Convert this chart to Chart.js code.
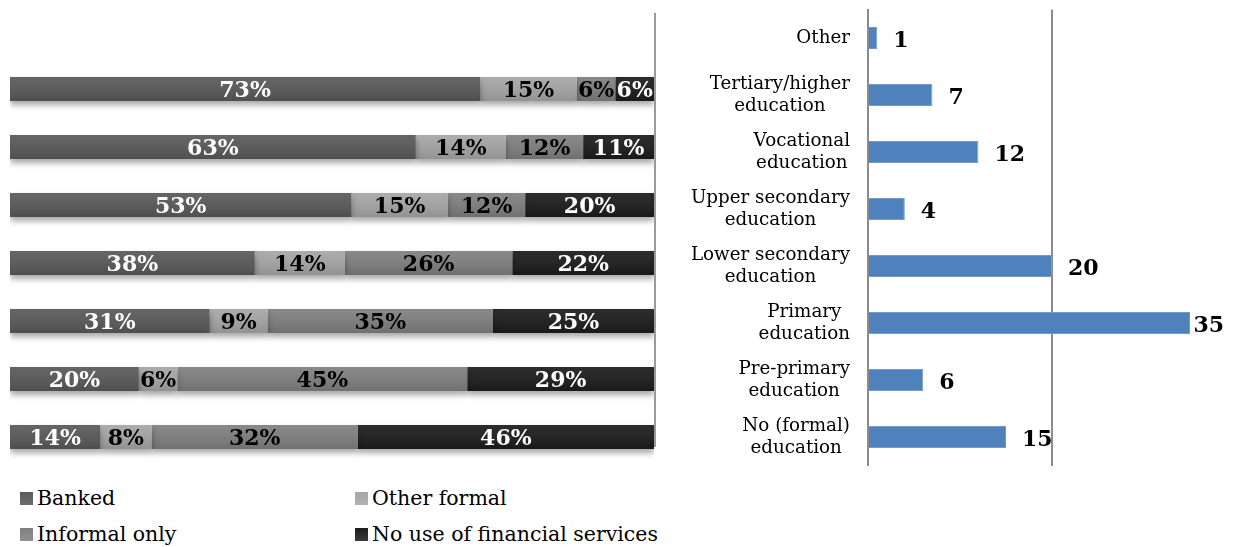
<!DOCTYPE html>
<html>
<head>
<meta charset="utf-8">
<script src="https://cdn.jsdelivr.net/npm/chart.js@4.4.1/dist/chart.umd.min.js"></script>
<style>
  html, body { margin: 0; padding: 0; background: #ffffff; }
  body { width: 1238px; height: 547px; position: relative; overflow: hidden; font-family: "DejaVu Serif", serif; }
  #usageBox { position: absolute; left: 0; top: 0; width: 660px; height: 480px; }
  #levelBox { position: absolute; left: 660px; top: 0; width: 578px; height: 480px; }
  #legend { position: absolute; left: 20px; top: 480px; display: grid; grid-template-columns: 335px auto; grid-auto-rows: 36px; font-size: 20.5px; color: #000; }
  #legend .item { display: flex; align-items: center; white-space: nowrap; }
  #legend .swatch { width: 13px; height: 13px; margin-right: 4px; display: inline-block; }
</style>
</head>
<body>
<div id="usageBox"><canvas id="usage"></canvas></div>
<div id="levelBox"><canvas id="levels"></canvas></div>
<div id="legend"></div>
<script>
// Use of financial services by education level (shares, %)
const rowLabels = [
  'Tertiary/higher education',
  'Vocational education',
  'Upper secondary education',
  'Lower secondary education',
  'Primary education',
  'Pre-primary education',
  'No (formal) education'
];
const banked       = [73, 63, 53, 38, 31, 20, 14];
const otherFormal  = [15, 14, 15, 14,  9,  6,  8];
const informalOnly = [ 6, 12, 12, 26, 35, 45, 32];
const noUse        = [ 6, 11, 20, 22, 25, 29, 46];
const seriesNames  = ['Banked', 'Other formal', 'Informal only', 'No use of financial services'];

// Respondents by highest education level
const levelLabels = [
  ['Other'],
  ['Tertiary/higher', 'education'],
  ['Vocational', 'education'],
  ['Upper secondary', 'education'],
  ['Lower secondary', 'education'],
  ['Primary', 'education'],
  ['Pre-primary', 'education'],
  ['No (formal)', 'education']
];
const levelCounts = [1, 7, 12, 4, 20, 35, 6, 15];

const serif = '"DejaVu Serif", serif';
Chart.defaults.font.family = serif;
Chart.defaults.animation = false;

const seriesFill  = ['#595959', '#a6a6a6', '#7f7f7f', '#1c1c1c'];
const seriesInk   = ['#ffffff', '#000000', '#000000', '#ffffff'];

// soft drop shadow under the stacked bars
const barShadow = {
  id: 'barShadow',
  beforeDatasetsDraw(chart) {
    const c = chart.ctx;
    c.save();
    c.shadowColor = 'rgba(0,0,0,0.35)';
    c.shadowBlur = 6;
    c.shadowOffsetY = 4;
  },
  afterDatasetsDraw(chart) {
    chart.ctx.restore();
    // slight top-to-bottom shading on every segment
    const c = chart.ctx;
    chart.data.datasets.forEach((ds, di) => {
      chart.getDatasetMeta(di).data.forEach(el => {
        const top = el.y - el.height / 2, bottom = el.y + el.height / 2;
        const g = c.createLinearGradient(0, top, 0, bottom);
        g.addColorStop(0, 'rgba(255,255,255,0.07)');
        g.addColorStop(1, 'rgba(0,0,0,0.12)');
        c.fillStyle = g;
        c.fillRect(Math.min(el.x, el.base), top, Math.abs(el.x - el.base), bottom - top);
      });
    });
  }
};

// percentage labels centred in each segment
const segmentLabels = {
  id: 'segmentLabels',
  afterDraw(chart) {
    const c = chart.ctx;
    c.save();
    c.font = 'bold 22px ' + serif;
    c.textAlign = 'center';
    c.textBaseline = 'middle';
    chart.data.datasets.forEach((ds, di) => {
      c.fillStyle = seriesInk[di];
      chart.getDatasetMeta(di).data.forEach((el, i) => {
        c.fillText(ds.data[i] + '%', (el.x + el.base) / 2, el.y + 2);
      });
    });
    c.restore();
  }
};

// frame line on the right edge of the stacked chart
const rightFrame = {
  id: 'rightFrame',
  afterDraw(chart) {
    const c = chart.ctx, a = chart.chartArea;
    c.save();
    c.strokeStyle = '#9a9a9a';
    c.lineWidth = 2;
    c.beginPath();
    c.moveTo(a.right + 1, a.top - 47);
    c.lineTo(a.right + 1, a.bottom - 19);
    c.stroke();
    c.restore();
  }
};

const usageChart = new Chart(document.getElementById('usage'), {
  type: 'bar',
  data: {
    labels: rowLabels,
    datasets: [banked, otherFormal, informalOnly, noUse].map((values, i) => ({
      label: seriesNames[i],
      data: values,
      backgroundColor: seriesFill[i],
      borderWidth: 0,
      barPercentage: 0.41,
      categoryPercentage: 1
    }))
  },
  options: {
    indexAxis: 'y',
    responsive: true,
    maintainAspectRatio: false,
    layout: { padding: { left: 10, right: 6, top: 60, bottom: 14 } },
    scales: {
      x: { stacked: true, min: 0, max: 100, display: false },
      y: { stacked: true, display: false }
    },
    plugins: { legend: { display: false }, tooltip: { enabled: false } }
  },
  plugins: [barShadow, segmentLabels, rightFrame]
});

// legend in two columns under the stacked chart
const legendEl = document.getElementById('legend');
usageChart.data.datasets.forEach(ds => {
  const item = document.createElement('div');
  item.className = 'item';
  const sw = document.createElement('span');
  sw.className = 'swatch';
  sw.style.background = 'linear-gradient(' + ds.backgroundColor + ', ' + ds.backgroundColor + 'dd)';
  item.appendChild(sw);
  item.appendChild(document.createTextNode(ds.label));
  legendEl.appendChild(item);
});

// category labels: lines centred on each other, block right-aligned to the axis
const levelTicks = {
  id: 'levelTicks',
  afterDraw(chart) {
    const c = chart.ctx, y = chart.scales.y;
    const right = chart.chartArea.left - 18;
    c.save();
    c.font = '18.3px ' + serif;
    c.fillStyle = '#000';
    c.textAlign = 'center';
    c.textBaseline = 'middle';
    const lineH = 22;
    chart.data.labels.forEach((lines, i) => {
      const w = Math.max(...lines.map(s => c.measureText(s).width));
      const cx = right - w / 2;
      const cy = y.getPixelForValue(i);
      lines.forEach((s, k) => {
        c.fillText(s, cx, cy + (k - (lines.length - 1) / 2) * lineH);
      });
    });
    c.restore();
  }
};

// value labels at the end of each bar
const valueLabels = {
  id: 'valueLabels',
  afterDraw(chart) {
    const c = chart.ctx;
    c.save();
    c.font = 'bold 22px ' + serif;
    c.fillStyle = '#000';
    c.textAlign = 'left';
    c.textBaseline = 'middle';
    const ds = chart.data.datasets[0];
    chart.getDatasetMeta(0).data.forEach((el, i) => {
      const t = String(ds.data[i]);
      const w = c.measureText(t).width;
      const x = Math.min(el.x + 16, chart.width - w - 14);
      c.fillText(t, x, el.y + 3);
    });
    c.restore();
  }
};

new Chart(document.getElementById('levels'), {
  type: 'bar',
  data: {
    labels: levelLabels,
    datasets: [{
      label: 'Respondents',
      data: levelCounts,
      backgroundColor: '#4f81bd',
      borderColor: '#739bcd',
      borderWidth: 1,
      barPercentage: 0.39,
      categoryPercentage: 1
    }]
  },
  options: {
    indexAxis: 'y',
    responsive: true,
    maintainAspectRatio: false,
    layout: { padding: { left: 0, right: 2, top: 9.5, bottom: 14.5 } },
    scales: {
      x: {
        min: 0, max: 40,
        ticks: { display: false, stepSize: 20 },
        grid: {
          drawTicks: false,
          lineWidth: 2,
          color: ctx => (ctx.tick && ctx.tick.value === 20) ? '#8c8c8c' : 'rgba(0,0,0,0)'
        },
        border: { display: false },
        afterFit: s => { s.height = 0; }
      },
      y: {
        ticks: { display: false },
        grid: { display: false, drawTicks: false },
        border: { display: true, color: '#8c8c8c', width: 2 },
        afterFit: s => { s.width = 208; }
      }
    },
    plugins: { legend: { display: false }, tooltip: { enabled: false } }
  },
  plugins: [levelTicks, valueLabels]
});
</script>
</body>
</html>
